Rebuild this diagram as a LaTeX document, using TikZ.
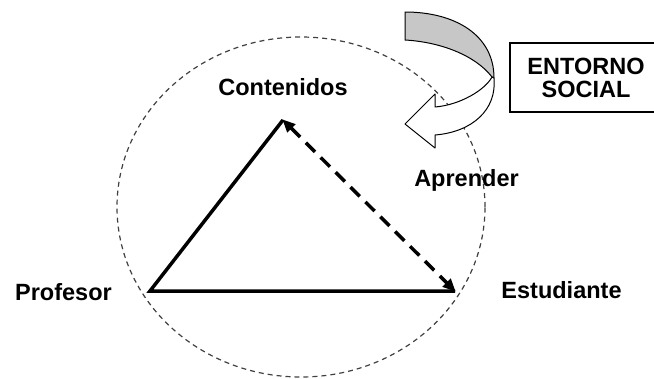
\documentclass[tikz,border=0pt]{standalone}
\usepackage{fontspec}
\setmainfont{Liberation Sans}
\usetikzlibrary{arrows.meta}
\begin{document}
\begin{tikzpicture}[x=1pt,y=-1pt,
  lbl/.style={font=\fontsize{23.5}{23}\selectfont\bfseries, inner sep=0pt, anchor=base},
  circ/.style={draw=black!75, line width=1.2pt, dash pattern=on 5pt off 4pt},
  tri/.style={line width=3.5pt, line join=miter},
  darr/.style={line width=3.5pt, dash pattern=on 13pt off 8pt, {Triangle[length=13pt,width=11pt]}-{Triangle[length=13pt,width=11pt]}, shorten <=-1pt, shorten >=-1pt},
  ribbon/.style={draw=black, line width=1pt, line join=round}]
\useasboundingbox (0,0) rectangle (654,378);
% dashed circle
\draw[circ] (301,207) ellipse [x radius=184pt, y radius=170pt];
% vertices
\coordinate (P) at (150,291);
\coordinate (C) at (283,120);
\coordinate (E) at (455,291);
% triangle
\draw[tri] (C) -- (P) -- (E);
\draw[darr] (C) -- (E);
% labels
\node[lbl] (contenidos) at (283,95) {Contenidos};
\node[lbl] (profesor) at (63.5,300.5) {Profesor};
\node[lbl] (estudiante) at (561.5,298.5) {Estudiante};
\node[lbl] (aprender) at (466.5,186.5) {Aprender};
% entorno social box
\node[draw=black, line width=1.2pt, minimum width=152pt, minimum height=69pt, inner sep=0pt,
      align=center, font=\fontsize{23.5}{23}\selectfont\bfseries] (entorno) at (586,77.5) {ENTORNO\\SOCIAL};
% curved ribbon arrow
\filldraw[ribbon, fill=black!22] (405,12) .. controls (455,12) and (494,35) .. (494,78)
   -- (492,77) .. controls (475,55) and (440,42) .. (405,40) -- cycle;
\filldraw[ribbon, fill=white] (494,78) .. controls (497,110) and (472,132) .. (435,135)
   -- (435,148) -- (405,124) -- (435,94) -- (435,107)
   .. controls (460,105) and (485,90) .. (492,77) -- cycle;
\end{tikzpicture}
\end{document}
